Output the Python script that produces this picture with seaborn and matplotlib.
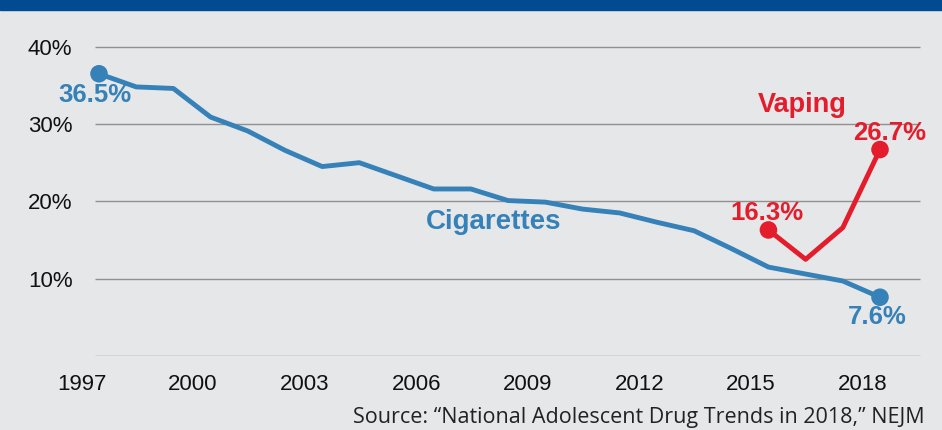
import matplotlib
matplotlib.use("Agg")
import matplotlib.pyplot as plt
from matplotlib.patches import Rectangle
import seaborn as sns
import pandas as pd

# ---- data ----
cig_years = list(range(1997, 2019))
cig_values = [36.5, 34.8, 34.6, 30.9, 29.1, 26.6, 24.5, 25.0, 23.3, 21.6, 21.6,
              20.1, 19.9, 19.0, 18.5, 17.3, 16.2, 13.9, 11.5, 10.6, 9.7, 7.6]
vape_years = [2015, 2016, 2017, 2018]
vape_values = [16.3, 12.5, 16.6, 26.7]
x_tick_years = [1997, 2000, 2003, 2006, 2009, 2012, 2015, 2018]
y_ticks = [10, 20, 30, 40]
y_tick_labels = ["10%", "20%", "30%", "40%"]
series_names = ["Cigarettes", "Vaping"]
source_text = "Source: \u201cNational Adolescent Drug Trends in 2018,\u201d NEJM"

BLUE = "#3581b8"
RED = "#e31d2b"
BG = "#e6e7e9"
GRID = "#909090"

df = pd.concat([
    pd.DataFrame({"year": cig_years, "pct": cig_values, "series": series_names[0]}),
    pd.DataFrame({"year": vape_years, "pct": vape_values, "series": series_names[1]}),
])
ends = pd.DataFrame({
    "year": [cig_years[0], cig_years[-1], vape_years[0], vape_years[-1]],
    "pct": [cig_values[0], cig_values[-1], vape_values[0], vape_values[-1]],
    "series": [series_names[0]] * 2 + [series_names[1]] * 2,
})

sns.set_theme(style="white")
plt.rcParams["font.family"] = ["Liberation Sans", "DejaVu Sans"]

W, H = 942, 430
fig = plt.figure(figsize=(W / 100, H / 100), dpi=100)
fig.patch.set_facecolor(BG)

# axes layout in pixels
ax_l, ax_r, ax_t, ax_b = 78, 930, 30, 356
ax = fig.add_axes([ax_l / W, 1 - ax_b / H, (ax_r - ax_l) / W, (ax_b - ax_t) / H])
ax.set_facecolor(BG)

px_per_year = (880 - 99) / 21
px_per_pct = (356 - 46.7) / 40
ax.set_xlim(1997 - (99 - ax_l) / px_per_year, 2018 + (ax_r - 880) / px_per_year)
ax.set_ylim(0, (ax_b - ax_t) / px_per_pct)

# grid lines (limited span)
gx0 = 1997 - (99 - 95) / px_per_year
gx1 = 2018 + (920 - 880) / px_per_year
ax.hlines([0] + y_ticks, gx0, gx1, colors=GRID, linewidth=1.0, zorder=1)

palette = {series_names[0]: BLUE, series_names[1]: RED}
sns.lineplot(data=df, x="year", y="pct", hue="series", palette=palette,
             linewidth=3.5, ax=ax, legend=False, zorder=3)
sns.scatterplot(data=ends, x="year", y="pct", hue="series", palette=palette,
                s=160, linewidth=0, ax=ax, legend=False, zorder=4)

# ticks
ax.set_xticks([y - 0.47 for y in x_tick_years])
ax.set_xticklabels([str(y) for y in x_tick_years])
ax.set_yticks(y_ticks)
ax.set_yticklabels(y_tick_labels)
ax.tick_params(axis="both", length=0, labelsize=16, colors="#111111")
ax.tick_params(axis="x", pad=13)
ax.tick_params(axis="y", pad=4)
ax.set_xlabel("")
ax.set_ylabel("")
for s in ax.spines.values():
    s.set_visible(False)

# value annotations
def lab(x, y, txt, dx, dy, color):
    ax.annotate(txt, (x, y), xytext=(dx * 0.72, dy * 0.72), textcoords="offset points",
                ha="center", va="center", fontsize=18.5, fontweight="bold", color=color,
                zorder=5)

lab(cig_years[0], cig_values[0], f"{cig_values[0]}%", -4, -21, BLUE)
lab(cig_years[-1], cig_values[-1], f"{cig_values[-1]}%", -3, -20, BLUE)
lab(vape_years[0], vape_values[0], f"{vape_values[0]}%", -1, 17, RED)
lab(vape_years[-1], vape_values[-1], f"{vape_values[-1]}%", 10, 17, RED)

ax.text(2007.62, 17.3, series_names[0], ha="center", va="center", fontsize=20,
        fontweight="bold", color=BLUE, zorder=5)
ax.text(2015.9, 32.4, series_names[1], ha="center", va="center", fontsize=19.5,
        fontweight="bold", color=RED, zorder=5)

# top bar
fig.patches.append(Rectangle((0, 1 - 10 / H), 1, 10 / H, transform=fig.transFigure,
                             color="#024b92", zorder=10))

fig.text(925 / W, 1 - 423 / H, source_text, ha="right", va="baseline", fontsize=15.5,
         color="#222222", family=["Liberation Sans Narrow", "Open Sans", "DejaVu Sans"])

fig.savefig("out.png", dpi=100, facecolor=BG)
